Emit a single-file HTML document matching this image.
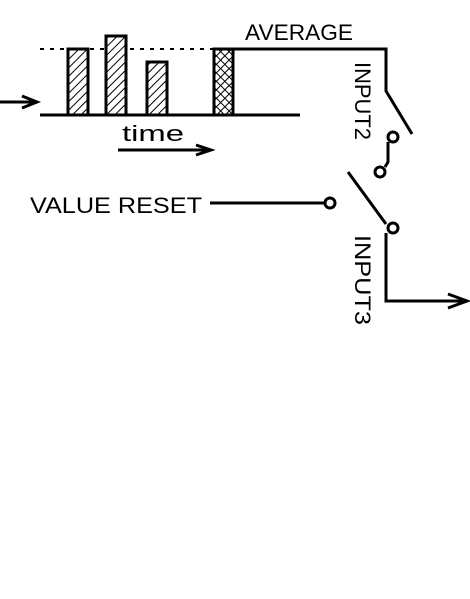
<!DOCTYPE html>
<html><head><style>
body{margin:0;background:#fff;width:470px;height:594px;overflow:hidden}
svg text{font-family:"Liberation Sans",sans-serif;font-size:22px;fill:#000}
</style></head><body>
<svg width="470" height="594" viewBox="0 0 470 594" xmlns="http://www.w3.org/2000/svg">
<defs>
<pattern id="h" width="6" height="6" patternUnits="userSpaceOnUse" patternTransform="rotate(45)">
<rect width="6" height="6" fill="#fff"/><line x1="0" y1="0" x2="0" y2="6" stroke="#000" stroke-width="2"/>
</pattern>
<pattern id="x" width="6" height="6" patternUnits="userSpaceOnUse" patternTransform="rotate(45)">
<rect width="6" height="6" fill="#fff"/><line x1="0" y1="0" x2="0" y2="6" stroke="#000" stroke-width="2"/><line x1="0" y1="0" x2="6" y2="0" stroke="#000" stroke-width="2"/>
</pattern>
</defs>
<g stroke="#000" stroke-width="3" fill="none">
<line x1="40" y1="49" x2="214" y2="49" stroke-dasharray="4,6" stroke-width="2"/>
<rect x="68" y="49" width="20" height="66" fill="url(#h)"/>
<rect x="106" y="36" width="20" height="79" fill="url(#h)"/>
<rect x="147" y="62" width="20" height="53" fill="url(#h)"/>
<rect x="214" y="49" width="19" height="66" fill="url(#x)"/>
<line x1="40" y1="115" x2="300" y2="115"/>
<line x1="0" y1="102" x2="36" y2="102"/>
<polyline points="22,96 37,102 22,108"/>
<line x1="118" y1="150" x2="210" y2="150"/>
<polyline points="196,145 211,150 196,155"/>
<polyline points="233,49 386,49 386,91 412,134"/>
<circle cx="393" cy="137" r="5"/>
<polyline points="388,142 388,162 385,167"/>
<circle cx="380" cy="172" r="5"/>
<line x1="348" y1="172" x2="386" y2="224"/>
<circle cx="393" cy="228" r="5"/>
<polyline points="386,233 386,301 466,301"/>
<polyline points="448,294 467,301 448,308"/>
<line x1="210" y1="203" x2="325" y2="203"/>
<circle cx="330" cy="203" r="5"/>
</g>
<text x="245" y="40" textLength="108" lengthAdjust="spacingAndGlyphs">AVERAGE</text>
<text x="122" y="141" textLength="62" lengthAdjust="spacingAndGlyphs">time</text>
<text x="30" y="213" textLength="172" lengthAdjust="spacingAndGlyphs">VALUE RESET</text>
<text transform="translate(355,62) rotate(90)" textLength="78" lengthAdjust="spacingAndGlyphs">INPUT2</text>
<text transform="translate(355,235) rotate(90)" textLength="90" lengthAdjust="spacingAndGlyphs">INPUT3</text>
</svg>
</body></html>
